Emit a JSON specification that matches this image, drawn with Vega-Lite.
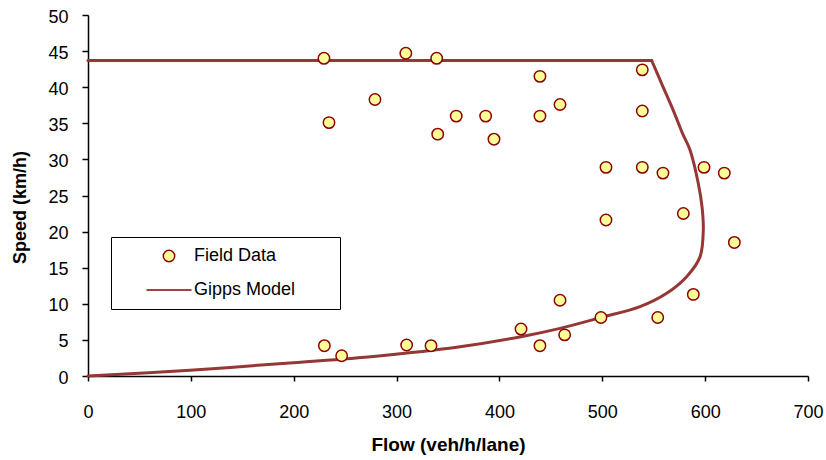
{
  "$schema": "https://vega.github.io/schema/vega-lite/v6.json",
  "autosize": {"type": "none"},
  "width": 720,
  "height": 361,
  "padding": {"left": 88, "top": 15, "right": 18, "bottom": 84},
  "background": "white",
  "config": {"view": {"stroke": null}},
  "datasets": {
    "field": [
      {"flow": 229.4, "speed": 44.0, "series": "Field Data"},
      {"flow": 234.3, "speed": 35.1, "series": "Field Data"},
      {"flow": 279.0, "speed": 38.3, "series": "Field Data"},
      {"flow": 309.0, "speed": 44.7, "series": "Field Data"},
      {"flow": 339.0, "speed": 44.0, "series": "Field Data"},
      {"flow": 340.0, "speed": 33.5, "series": "Field Data"},
      {"flow": 358.0, "speed": 36.0, "series": "Field Data"},
      {"flow": 386.6, "speed": 36.0, "series": "Field Data"},
      {"flow": 394.7, "speed": 32.8, "series": "Field Data"},
      {"flow": 439.4, "speed": 41.5, "series": "Field Data"},
      {"flow": 439.4, "speed": 36.0, "series": "Field Data"},
      {"flow": 458.9, "speed": 37.6, "series": "Field Data"},
      {"flow": 538.9, "speed": 42.4, "series": "Field Data"},
      {"flow": 538.9, "speed": 36.7, "series": "Field Data"},
      {"flow": 503.6, "speed": 28.9, "series": "Field Data"},
      {"flow": 538.9, "speed": 28.9, "series": "Field Data"},
      {"flow": 559.0, "speed": 28.1, "series": "Field Data"},
      {"flow": 598.9, "speed": 28.9, "series": "Field Data"},
      {"flow": 618.6, "speed": 28.1, "series": "Field Data"},
      {"flow": 503.6, "speed": 21.6, "series": "Field Data"},
      {"flow": 578.8, "speed": 22.5, "series": "Field Data"},
      {"flow": 628.4, "speed": 18.5, "series": "Field Data"},
      {"flow": 588.5, "speed": 11.3, "series": "Field Data"},
      {"flow": 458.9, "speed": 10.5, "series": "Field Data"},
      {"flow": 421.0, "speed": 6.5, "series": "Field Data"},
      {"flow": 498.7, "speed": 8.1, "series": "Field Data"},
      {"flow": 553.9, "speed": 8.1, "series": "Field Data"},
      {"flow": 463.4, "speed": 5.7, "series": "Field Data"},
      {"flow": 439.4, "speed": 4.2, "series": "Field Data"},
      {"flow": 229.8, "speed": 4.2, "series": "Field Data"},
      {"flow": 246.6, "speed": 2.8, "series": "Field Data"},
      {"flow": 309.8, "speed": 4.3, "series": "Field Data"},
      {"flow": 333.5, "speed": 4.2, "series": "Field Data"}
    ],
    "freeflow": [
      {"flow": 0, "speed": 43.7},
      {"flow": 548, "speed": 43.7}
    ],
    "congested": [
      {"flow": 548, "speed": 43.7},
      {"flow": 557.7, "speed": 40.5},
      {"flow": 569, "speed": 36.8},
      {"flow": 578, "speed": 33.6},
      {"flow": 585.3, "speed": 31.3},
      {"flow": 593.3, "speed": 26.7},
      {"flow": 597, "speed": 23.4},
      {"flow": 598.2, "speed": 20.2},
      {"flow": 595, "speed": 16.5},
      {"flow": 582, "speed": 13.75},
      {"flow": 562.6, "speed": 11.45},
      {"flow": 536.7, "speed": 9.6},
      {"flow": 498.7, "speed": 8.1},
      {"flow": 459, "speed": 6.6},
      {"flow": 421, "speed": 5.45},
      {"flow": 361.7, "speed": 4.06},
      {"flow": 280, "speed": 2.75},
      {"flow": 199.6, "speed": 1.85},
      {"flow": 99.2, "speed": 0.8},
      {"flow": 0, "speed": 0}
    ]
  },
  "encoding": {
    "x": {
      "field": "flow", "type": "quantitative",
      "scale": {"domain": [0, 700], "nice": false, "zero": true},
      "axis": {
        "title": "Flow (veh/h/lane)",
        "values": [0, 100, 200, 300, 400, 500, 600, 700],
        "grid": false,
        "domainColor": "black", "domainWidth": 1.5,
        "tickColor": "black", "tickWidth": 1.5, "tickSize": 5,
        "labelFont": "Liberation Sans", "labelFontSize": 18, "labelColor": "black",
        "labelPadding": 22, "labelFlush": false, "labelOverlap": false,
        "titleFont": "Liberation Sans", "titleFontSize": 19, "titleFontWeight": "bold", "titleColor": "black",
        "titleBaseline": "alphabetic", "titleY": 74,
        "encode": {"ticks": {"y": {"value": -5}, "y2": {"value": 5}}}
      }
    },
    "y": {
      "field": "speed", "type": "quantitative",
      "scale": {"domain": [0, 50], "nice": false},
      "axis": {
        "title": "Speed (km/h)",
        "values": [0, 5, 10, 15, 20, 25, 30, 35, 40, 45, 50],
        "grid": false,
        "domainColor": "black", "domainWidth": 1.5,
        "tickColor": "black", "tickWidth": 1.5, "tickSize": 6,
        "labelFont": "Liberation Sans", "labelFontSize": 18, "labelColor": "black",
        "labelPadding": 14, "labelOffset": 2, "labelFlush": false, "labelOverlap": false,
        "titleFont": "Liberation Sans", "titleFontSize": 18, "titleFontWeight": "bold", "titleColor": "black",
        "titleAngle": -90, "titleAlign": "center", "titleBaseline": "alphabetic",
        "titleX": -63, "titleY": 192,
        "encode": {"ticks": {"x": {"value": 6}, "x2": {"value": -6}}}
      }
    }
  },
  "layer": [
    {
      "data": {"name": "freeflow"},
      "mark": {"type": "line", "color": "#953735", "strokeWidth": 3, "strokeCap": "round", "strokeJoin": "round"},
      "encoding": {"order": {"value": null}}
    },
    {
      "data": {"name": "congested"},
      "mark": {"type": "line", "color": "#953735", "strokeWidth": 3, "strokeCap": "round", "strokeJoin": "round", "interpolate": "catmull-rom"},
      "encoding": {"order": {"value": null}}
    },
    {
      "data": {"name": "field"},
      "mark": {"type": "point", "filled": true, "fill": "#FFFF99", "stroke": "#8B0000", "strokeWidth": 1.5, "size": 130, "opacity": 1},
      "encoding": {
        "shape": {
          "field": "series", "type": "nominal",
          "scale": {"domain": ["Field Data", "Gipps Model"], "range": ["circle", "M-3.95,0H3.95"]},
          "legend": {
            "title": "\u00a0",
            "titleOrient": "right", "titlePadding": 35, "titleFontSize": 18, "titleFont": "Liberation Sans",
            "orient": "none", "legendX": 23, "legendY": 222,
            "padding": 10,
            "strokeColor": "black", "fillColor": "white",
            "labelFont": "Liberation Sans", "labelFontSize": 18, "labelColor": "black",
            "labelOffset": 16, "symbolOffset": 39,
            "rowPadding": 16,
            "symbolSize": 130,
            "symbolOpacity": 1,
            "encode": {
              "symbols": {
                "fill": {"value": "#FFFF99"},
                "stroke": {"value": "#953735"},
                "strokeWidth": {"value": 2.5},
                "strokeOpacity": {"value": 1}
              }
            }
          }
        }
      }
    }
  ]
}
